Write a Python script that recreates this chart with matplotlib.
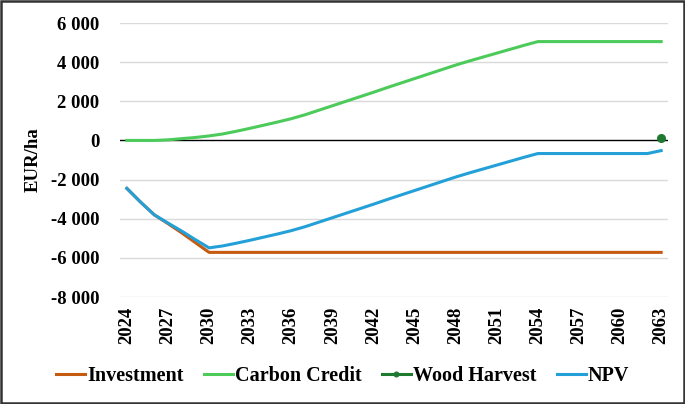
import matplotlib
matplotlib.use("Agg")
import matplotlib.pyplot as plt
from matplotlib.patches import Rectangle
from matplotlib.ticker import FuncFormatter

years = list(range(2024, 2064))
investment = [-2450, -3150, -3800, -4250, -4720, -5220, -5720] + [-5720] * 33
carbon_credit = [0, 0, 0, 30, 90, 150, 230, 330, 470, 620, 780, 940, 1110, 1310,
                 1540, 1770, 2000, 2230, 2460, 2700, 2930, 3160, 3390, 3620, 3850,
                 4060, 4260, 4460, 4660, 4860, 5050] + [5050] * 9
wood_harvest_year = [2063]
wood_harvest = [140]
npv = [-2450, -3150, -3800, -4220, -4630, -5070, -5490, -5390, -5250, -5100, -4940,
       -4780, -4610, -4410, -4180, -3950, -3720, -3490, -3260, -3020, -2790, -2560,
       -2330, -2100, -1870, -1660, -1460, -1260, -1060, -860, -670] + [-670] * 8 + [-520]
xtick_years = list(range(2024, 2064, 3))
yticks = [6000, 4000, 2000, 0, -2000, -4000, -6000, -8000]

FONT = "Liberation Serif"
plt.rcParams['font.family'] = [FONT, 'DejaVu Serif']
plt.rcParams['font.weight'] = 'bold'

fig = plt.figure(figsize=(6.85, 4.04), dpi=100)
ax = fig.add_axes([120/685, 1-297/404, (668-120)/685, (297-23)/404])

for v in yticks:
    if v != 0:
        ax.axhline(v, color="#D9D9D9", lw=1.0, zorder=0)
ax.axhline(0, color="black", lw=1.0, zorder=1)

ax.plot(years, investment, color="#C55A11", lw=2.2, label="Investment", zorder=3)
ax.plot(years, carbon_credit, color="#4CCB5A", lw=2.2, label="Carbon Credit", zorder=3)
ax.plot(wood_harvest_year, wood_harvest, color="#1E7A2E", lw=2.2, marker="o",
        markersize=5.5, label="Wood Harvest", zorder=4)
ax.plot(years, npv, color="#23A0D8", lw=2.2, label="NPV", zorder=3)

ax.set_xlim(2023.5, 2063.5)
ax.set_ylim(-8000, 6000)
ax.set_yticks(yticks)
ax.yaxis.set_major_formatter(FuncFormatter(lambda v, p: f"{int(v):,}".replace(",", " ")))
ax.set_xticks(xtick_years)
ax.set_xticklabels([str(y) for y in xtick_years], rotation=90)
ax.tick_params(axis='both', length=0, labelsize=13.5)
ax.tick_params(axis='y', pad=15)
ax.tick_params(axis='x', pad=7)
for s in ax.spines.values():
    s.set_visible(False)
ax.set_ylabel("EUR/ha", fontsize=13.5, fontweight='bold')
ax.yaxis.set_label_coords(-(120-42)/548, 0.5)

fig.legend(loc="center", bbox_to_anchor=(0.5, 1-376/404), ncol=4, frameon=False,
           fontsize=14.5, handlelength=1.45, handletextpad=0.1, columnspacing=1.0,
           markerscale=0.6)

fig.add_artist(Rectangle((0.002, 0.003), 0.996, 0.994, transform=fig.transFigure,
                         fill=False, edgecolor="#333333", lw=1.8))

fig.savefig("out.png", dpi=100)
